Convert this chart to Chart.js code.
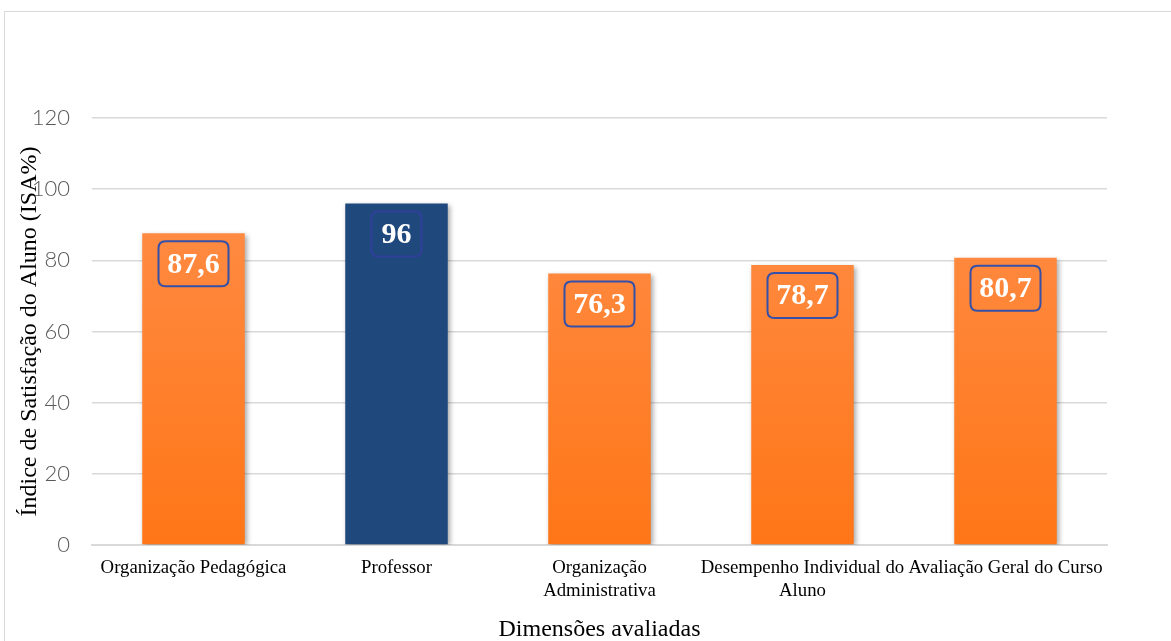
<!DOCTYPE html>
<html>
<head>
<meta charset="utf-8">
<script src="https://cdn.jsdelivr.net/npm/chart.js"></script>
<style>
  html, body { margin: 0; padding: 0; background: #fff; }
  #wrap { position: relative; width: 1171px; height: 641px; overflow: hidden; }
  #frame { position: absolute; left: 4px; top: 11px; width: 1300px; height: 700px; border: 1px solid #d9d9d9; }
  #c { position: absolute; left: 0; top: 0; }
</style>
</head>
<body>
<div id="wrap">
  <div id="frame"></div>
  <canvas id="c" width="1171" height="641"></canvas>
</div>
<script>
var categories = [
  "Organização Pedagógica",
  "Professor",
  ["Organização", "Administrativa"],
  ["Desempenho Individual do", "Aluno"],
  "Avaliação Geral do Curso"
];
var values = [87.6, 96, 76.3, 78.7, 80.7];
var valueLabels = ["87,6", "96", "76,3", "78,7", "80,7"];
var yTicks = [0, 20, 40, 60, 80, 100, 120];

var serif = "'Liberation Serif', 'Times New Roman', serif";

function barColor(ctx) {
  if (ctx.dataIndex === 1) return '#1f497d';
  var chart = ctx.chart;
  var area = chart.chartArea;
  if (!area) return '#ff8a3a';
  var el = chart.getDatasetMeta(0).data[ctx.dataIndex];
  var top = el && el.y !== undefined && !isNaN(el.y) ? el.y : area.top;
  var g = chart.ctx.createLinearGradient(0, top, 0, area.bottom);
  g.addColorStop(0, '#ff9150');
  g.addColorStop(1, '#ff7617');
  return g;
}

var shadowPlugin = {
  id: 'barShadow',
  beforeDatasetsDraw: function(chart) {
    var c = chart.ctx;
    c.save();
    c.shadowColor = 'rgba(0,0,0,0.35)';
    c.shadowBlur = 5;
    c.shadowOffsetX = 2;
    c.shadowOffsetY = 2;
  },
  afterDatasetsDraw: function(chart) {
    chart.ctx.restore();
  }
};

function roundRect(c, x, y, w, h, r) {
  c.beginPath();
  c.moveTo(x + r, y);
  c.lineTo(x + w - r, y);
  c.quadraticCurveTo(x + w, y, x + w, y + r);
  c.lineTo(x + w, y + h - r);
  c.quadraticCurveTo(x + w, y + h, x + w - r, y + h);
  c.lineTo(x + r, y + h);
  c.quadraticCurveTo(x, y + h, x, y + h - r);
  c.lineTo(x, y + r);
  c.quadraticCurveTo(x, y, x + r, y);
  c.closePath();
}

var labelPlugin = {
  id: 'valueBoxes',
  afterDatasetsDraw: function(chart) {
    var c = chart.ctx;
    var meta = chart.getDatasetMeta(0);
    c.save();
    c.font = "bold 30px " + serif;
    c.textAlign = 'center';
    c.textBaseline = 'middle';
    meta.data.forEach(function(bar, i) {
      var txt = valueLabels[i];
      var w = txt.length > 2 ? 70 : 50;
      var h = 45;
      var x = bar.x - w / 2;
      var y = bar.y + 8;
      roundRect(c, x, y, w, h, 7);
      c.lineWidth = 2;
      c.strokeStyle = i === 1 ? '#2f3f9a' : '#3550a8';
      c.stroke();
      c.fillStyle = '#ffffff';
      c.fillText(txt, bar.x, y + h / 2 + 1);
    });
    c.restore();
  }
};

var yTitlePlugin = {
  id: 'yTitle',
  afterDraw: function(chart) {
    var c = chart.ctx;
    var a = chart.chartArea;
    c.save();
    c.translate(30, (a.top + a.bottom) / 2);
    c.rotate(-Math.PI / 2);
    c.font = "24px " + serif;
    c.fillStyle = '#000';
    c.textAlign = 'center';
    c.textBaseline = 'middle';
    c.fillText("Índice de Satisfação do Aluno (ISA%)", 0, 0);
    c.restore();
  }
};

new Chart(document.getElementById('c'), {
  type: 'bar',
  data: {
    labels: categories,
    datasets: [{
      data: values,
      backgroundColor: barColor,
      borderWidth: 0,
      barPercentage: 0.505,
      categoryPercentage: 1
    }]
  },
  options: {
    responsive: false,
    animation: false,
    events: [],
    layout: { padding: { top: 118, right: 64, left: 0, bottom: 0 } },
    plugins: { legend: { display: false }, tooltip: { enabled: false } },
    scales: {
      x: {
        grid: { display: false, drawTicks: false },
        border: { color: '#d9d9d9', width: 2 },
        ticks: {
          color: '#000',
          font: { family: serif, size: 18.8, lineHeight: 1.2 },
          padding: 12,
          maxRotation: 0,
          autoSkip: false
        },
        title: {
          display: true,
          text: 'Dimensões avaliadas',
          color: '#000',
          font: { family: serif, size: 24 },
          padding: { top: 8, bottom: -3 }
        },
        afterFit: function(s) { s.height = 96; }
      },
      y: {
        min: 0,
        max: 120,
        afterBuildTicks: function(s) { s.ticks = yTicks.map(function(v) { return { value: v }; }); },
        grid: { color: '#d9d9d9', lineWidth: 1.5, drawTicks: false },
        border: { display: false },
        ticks: {
          color: '#595959',
          font: { family: "'Lato', 'Open Sans', sans-serif", size: 22, weight: '300' },
          padding: 22
        },
        afterFit: function(s) { s.width = 92; }
      }
    }
  },
  plugins: [shadowPlugin, labelPlugin, yTitlePlugin]
});
</script>
</body>
</html>
